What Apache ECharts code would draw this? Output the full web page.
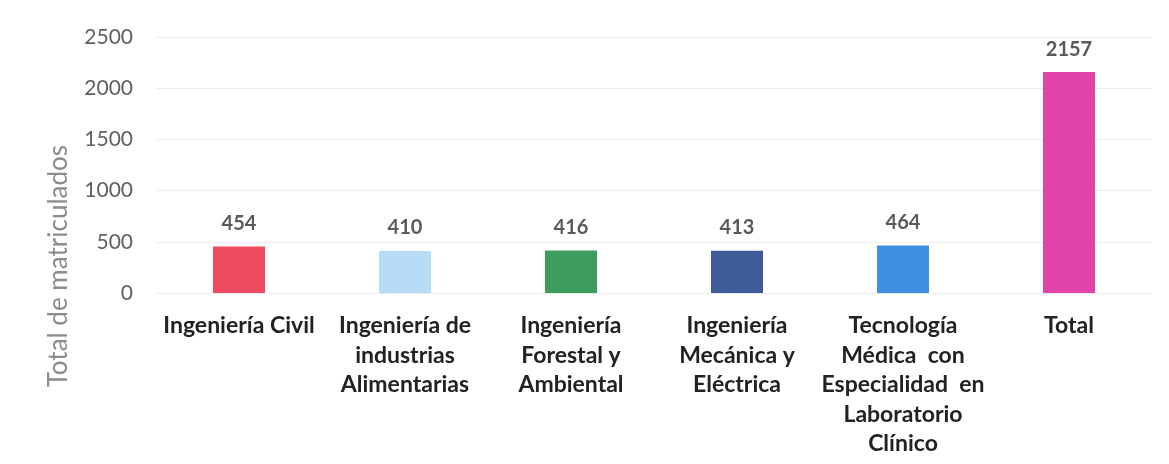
<!DOCTYPE html>
<html>
<head>
  <meta charset="UTF-8">
  <script src="https://cdn.jsdelivr.net/npm/echarts@6/dist/echarts.min.js"></script>
  <style>
    html, body { margin: 0; padding: 0; background: #fff; }
    #main { width: 1169px; height: 464px; }
  </style>
</head>
<body>
  <div id="main"></div>
  <script>
    // categorias y valores
    var carreras = [
      'Ingeniería Civil',
      'Ingeniería de\nindustrias\nAlimentarias',
      'Ingeniería\nForestal y\nAmbiental',
      'Ingeniería\nMecánica y\nEléctrica',
      'Tecnología\nMédica  con\nEspecialidad  en\nLaboratorio\nClínico',
      'Total'
    ];
    var matriculados = [454, 410, 416, 413, 464, 2157];
    var colores = ['#f04a60', '#b9dcf6', '#3e9c5e', '#3f5c99', '#3f8fe4', '#e044aa'];
    var yTicks = [0, 500, 1000, 1500, 2000, 2500];

    var myChart = echarts.init(document.getElementById('main'));

    myChart.setOption({
      animation: false,
      textStyle: { fontFamily: 'Lato' },
      grid: { left: 156, right: 17, top: 37, bottom: 171, containLabel: false },
      xAxis: {
        type: 'category',
        data: carreras,
        axisLine: { show: false },
        axisTick: { show: false },
        axisLabel: {
          interval: 0,
          margin: 18,
          color: '#222222',
          fontWeight: 'bold',
          fontSize: 23,
          lineHeight: 29.5,
          fontFamily: 'Lato'
        }
      },
      yAxis: {
        type: 'value',
        min: yTicks[0],
        max: yTicks[yTicks.length - 1],
        interval: 500,
        axisLine: { show: false },
        axisTick: { show: false },
        axisLabel: {
          color: '#606060',
          fontSize: 21,
          margin: 23,
          fontFamily: 'Lato',
          formatter: function (v) { return String(v); }
        },
        splitLine: { lineStyle: { color: '#ececec', width: 1 } }
      },
      graphic: [{
        type: 'text',
        left: 46,
        top: 145,
        rotation: Math.PI / 2,
        style: {
          text: 'Total de matriculados',
          fill: '#8c8c8c',
          fontSize: 26,
          fontFamily: 'Lato'
        }
      }],
      series: [{
        type: 'bar',
        barWidth: 52,
        data: matriculados.map(function (v, i) {
          return { value: v, itemStyle: { color: colores[i] } };
        }),
        label: {
          show: true,
          position: 'top',
          distance: 13,
          color: '#5a5a5a',
          fontWeight: 'bold',
          fontSize: 20,
          fontFamily: 'Lato'
        }
      }]
    });
  </script>
</body>
</html>
